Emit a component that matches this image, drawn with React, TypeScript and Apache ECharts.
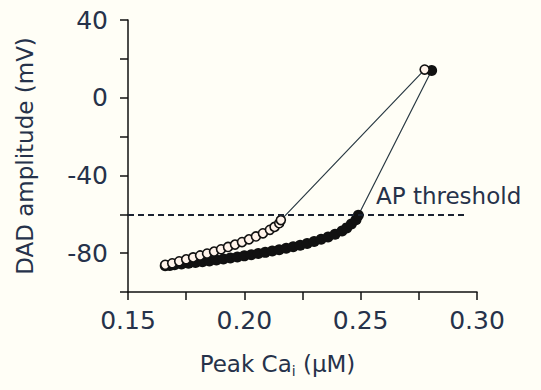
import React, { useEffect, useRef } from "react";
import * as echarts from "echarts";

// Filled circles series (x = peak Cai µM, y = DAD amplitude mV)
const filledX = [0.166, 0.168, 0.17, 0.173, 0.176, 0.179, 0.182, 0.185, 0.188, 0.191, 0.194, 0.197, 0.2, 0.203, 0.206, 0.209, 0.212, 0.215, 0.218, 0.221, 0.224, 0.227, 0.23, 0.233, 0.236, 0.239, 0.242, 0.244, 0.246, 0.248, 0.249, 0.2805];
const filledY = [-86.5, -86.3, -86.0, -85.6, -85.2, -84.8, -84.4, -84.0, -83.5, -83.0, -82.5, -82.0, -81.4, -80.8, -80.2, -79.6, -78.9, -78.2, -77.5, -76.7, -75.9, -75.0, -74.0, -72.9, -71.7, -70.3, -68.6, -67.0, -65.0, -62.8, -60.5, 14];

// Open circles series
const openX = [0.166, 0.169, 0.172, 0.175, 0.178, 0.181, 0.184, 0.187, 0.19, 0.193, 0.196, 0.199, 0.202, 0.205, 0.208, 0.211, 0.213, 0.215, 0.2157, 0.2775];
const openY = [-86, -85.2, -84.2, -83.2, -82.2, -81.2, -80.2, -79.2, -78.0, -76.8, -75.6, -74.3, -72.9, -71.4, -69.8, -68.0, -66.5, -64.6, -63, 14.5];

const threshold = -60;
const thresholdXRange = [0.15, 0.296];
const thresholdLabel = "AP threshold";

const xTickLabels = ["0.15", "0.20", "0.25", "0.30"];
const yTickLabels = [40, 0, -40, -80];

const TEXT = "#26324a";
const FONT = "DejaVu Sans";

export default function App() {
  const ref = useRef<HTMLDivElement>(null);
  useEffect(() => {
    if (!ref.current) return;
    const chart = echarts.init(ref.current, undefined, { renderer: "svg" });
    const filled = filledX.map((x, i) => [x, filledY[i]]);
    const open = openX.map((x, i) => [x, openY[i]]);
    chart.setOption({
      animation: false,
      backgroundColor: "#fffef6",
      grid: { left: 128, right: 64, top: 20, bottom: 98, containLabel: false },
      xAxis: {
        type: "value",
        min: 0.15,
        max: 0.3,
        interval: 0.025,
        splitLine: { show: false },
        axisLine: { onZero: false, lineStyle: { color: "#111", width: 1.5 } },
        axisTick: { length: 8, lineStyle: { color: "#111", width: 1.5 } },
        axisLabel: {
          margin: 16,
          color: TEXT,
          fontFamily: FONT,
          fontSize: 25,
          formatter: (v: number) => {
            const s = v.toFixed(2);
            return xTickLabels.includes(s) && Math.abs(v * 1000 - Math.round(v * 20) * 50) < 1e-6 ? s : "";
          },
        },
        name: "{a|Peak Ca}{s|i}{a| (μM)}",
        nameLocation: "middle",
        nameGap: 58,
        nameTextStyle: {
          padding: [0, 50, 0, 0],
          rich: {
            a: { fontSize: 23, fontFamily: FONT, color: TEXT, lineHeight: 28 },
            s: { fontSize: 14, fontFamily: FONT, color: TEXT, lineHeight: 18, verticalAlign: "bottom" },
          },
        },
      },
      yAxis: {
        type: "value",
        min: -100,
        max: 40,
        interval: 20,
        splitLine: { show: false },
        axisLine: { show: true, onZero: false, lineStyle: { color: "#111", width: 1.5 } },
        axisTick: { show: true, length: 8, lineStyle: { color: "#111", width: 1.5 } },
        axisLabel: {
          margin: 20,
          color: TEXT,
          fontFamily: FONT,
          fontSize: 25,
          formatter: (v: number) => (yTickLabels.includes(Math.round(v)) ? String(Math.round(v)) : ""),
        },
        name: "DAD amplitude (mV)",
        nameLocation: "middle",
        nameGap: 92,
        nameTextStyle: { color: TEXT, fontFamily: FONT, fontSize: 23 },
      },
      series: [
        {
          type: "line",
          data: filled,
          symbol: "circle",
          symbolSize: 11,
          showSymbol: true,
          itemStyle: { color: "#111" },
          lineStyle: { color: "#2a3a44", width: 1.2 },
          z: 2,
          markLine: {
            silent: true,
            symbol: "none",
            label: { show: false },
            lineStyle: { type: [6, 4], color: "#1a2230", width: 2 },
            data: [
              [
                { coord: [thresholdXRange[0], threshold] },
                { coord: [thresholdXRange[1], threshold] },
              ],
            ],
          },
        },
        {
          type: "line",
          data: open,
          symbol: "circle",
          symbolSize: 9,
          showSymbol: true,
          itemStyle: { color: "#fff3ea", borderColor: "#111", borderWidth: 1.6 },
          lineStyle: { color: "#2a3a44", width: 1.2 },
          z: 3,
        },
      ],
      graphic: [
        {
          type: "text",
          left: 376,
          top: 184,
          style: { text: thresholdLabel, fill: TEXT, font: `23px "${FONT}"` },
        },
      ],
    });
    return () => chart.dispose();
  }, []);
  return <div ref={ref} style={{ position: "fixed", left: 0, top: 0, width: 541, height: 390 }} />;
}
